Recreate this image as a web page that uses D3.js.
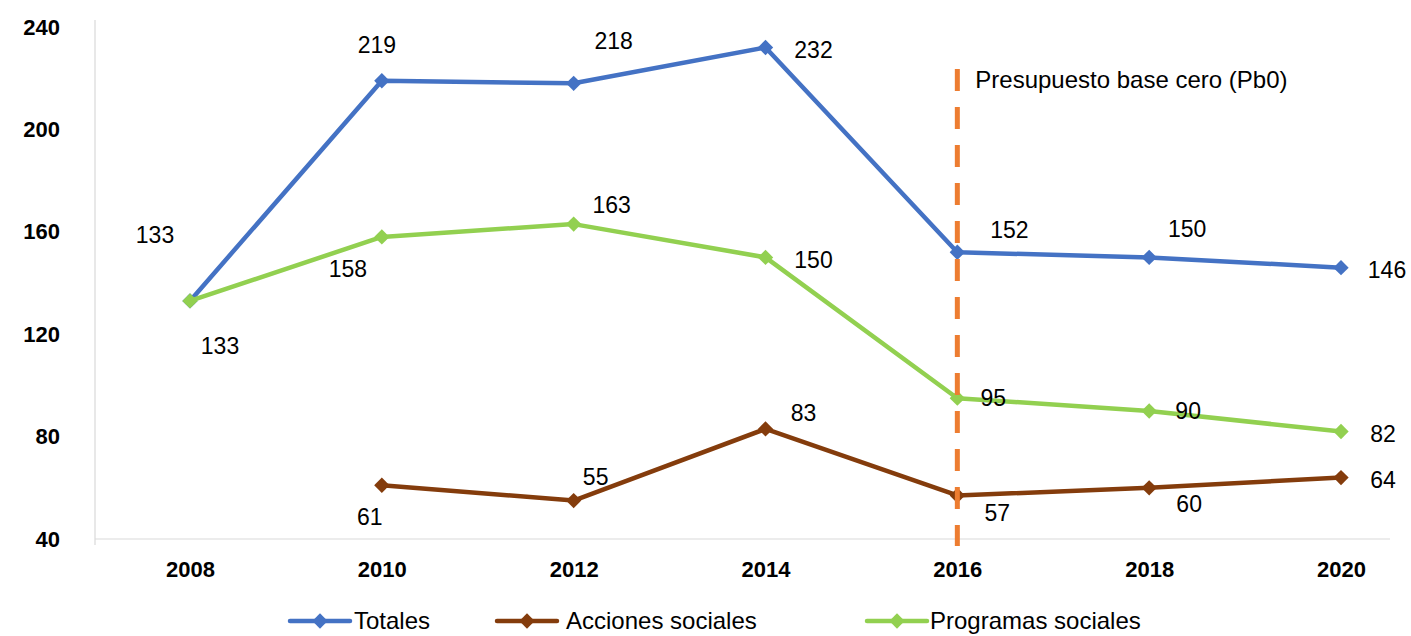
<!DOCTYPE html>
<html>
<head>
<meta charset="utf-8">
<script src="https://cdn.jsdelivr.net/npm/d3@7/dist/d3.min.js"></script>
<style>
  body { margin: 0; background: #fff; }
  text { font-family: "Liberation Sans", Arial, sans-serif; }
</style>
</head>
<body>
<svg id="chart" width="1411" height="636"></svg>
<script>
const years = ["2008", "2010", "2012", "2014", "2016", "2018", "2020"];
const totales = [133, 219, 218, 232, 152, 150, 146];
const acciones = [null, 61, 55, 83, 57, 60, 64];
const programas = [133, 158, 163, 150, 95, 90, 82];
const yTicks = [40, 80, 120, 160, 200, 240];
const markerYear = "2016";
const markerLabel = "Presupuesto base cero (Pb0)";

// label offsets (dx, dy) relative to point, per series
const totalesLabelOff = [[-35, -66], [-5, -36], [40, -42], [48, 2], [52, -22], [38, -28], [46, 2]];
const accionesLabelOff = [null, [-12, 32], [22, -24], [38, -16], [40, 17], [40, 16], [42, 2]];
const programasLabelOff = [[30, 45], [-34, 32], [38, -19], [48, 3], [36, 0], [39, 0], [42, 2]];

const svg = d3.select("#chart");
const plotLeft = 95, plotTop = 27, plotBottom = 539;

const x = d3.scalePoint().domain(years).range([190, 1341]);
const y = d3.scaleLinear().domain([40, 240]).range([plotBottom, plotTop]);

// axes lines
svg.append("line").attr("x1", plotLeft).attr("x2", plotLeft).attr("y1", 20).attr("y2", 545)
  .attr("stroke", "#d9d9d9").attr("stroke-width", 1.2);
svg.append("line").attr("x1", plotLeft).attr("x2", 1390).attr("y1", plotBottom).attr("y2", plotBottom)
  .attr("stroke", "#d9d9d9").attr("stroke-width", 1.2);

// y tick labels
const yAxis = d3.axisLeft(y).tickValues(yTicks).tickSize(0).tickPadding(0);
const gy = svg.append("g").attr("transform", `translate(${60},0)`).call(yAxis);
gy.select(".domain").remove();
gy.selectAll("text").attr("font-size", 22).attr("font-weight", 700).attr("fill", "#000")
  .attr("font-family", "Roboto, Liberation Sans, sans-serif")
  .attr("text-anchor", "end");

// x tick labels
const xAxis = d3.axisBottom(x).tickSize(0).tickPadding(0);
const gx = svg.append("g").attr("transform", `translate(0,${569})`).call(xAxis);
gx.select(".domain").remove();
gx.selectAll("text").attr("font-size", 22).attr("font-weight", 700).attr("fill", "#000")
  .attr("font-family", "Roboto, Liberation Sans, sans-serif")
  .attr("dy", "0.35em");

const series = [
  {name: "Totales", values: totales, color: "#4472C4", off: totalesLabelOff},
  {name: "Acciones sociales", values: acciones, color: "#843C0C", off: accionesLabelOff},
  {name: "Programas sociales", values: programas, color: "#92D050", off: programasLabelOff}
];

const line = d3.line()
  .defined(d => d.v !== null)
  .x(d => x(d.year)).y(d => y(d.v));

const diamond = d3.symbol().type(d3.symbolDiamond2).size(150);

series.forEach(s => {
  const pts = years.map((yr, i) => ({year: yr, v: s.values[i], i}));
  svg.append("path").datum(pts).attr("d", line)
    .attr("fill", "none").attr("stroke", s.color).attr("stroke-width", 4.5)
    .attr("stroke-linejoin", "round");
  svg.append("g").selectAll("path").data(pts.filter(d => d.v !== null)).join("path")
    .attr("d", diamond)
    .attr("transform", d => `translate(${x(d.year)},${y(d.v)})`)
    .attr("fill", s.color);
});

// data labels
series.forEach(s => {
  const pts = years.map((yr, i) => ({year: yr, v: s.values[i], i})).filter(d => d.v !== null);
  svg.append("g").selectAll("text").data(pts).join("text")
    .attr("x", d => x(d.year) + s.off[d.i][0])
    .attr("y", d => y(d.v) + s.off[d.i][1])
    .attr("dy", "0.35em")
    .attr("text-anchor", "middle")
    .attr("font-size", 23).attr("fill", "#000")
    .text(d => d.v);
});

// vertical dashed line
svg.append("line")
  .attr("x1", x(markerYear)).attr("x2", x(markerYear))
  .attr("y1", 69).attr("y2", 546)
  .attr("stroke", "#ED7D31").attr("stroke-width", 5)
  .attr("stroke-dasharray", "22,16");
svg.append("text").attr("x", x(markerYear) + 18).attr("y", 80).attr("dy", "0.35em")
  .attr("font-size", 24).attr("fill", "#000").text(markerLabel);

// legend
const legendItems = [
  {s: series[0], x0: 290, tx: 354},
  {s: series[1], x0: 497, tx: 566},
  {s: series[2], x0: 867, tx: 930}
];
const ly = 621;
legendItems.forEach(it => {
  svg.append("line").attr("x1", it.x0).attr("x2", it.x0 + 60).attr("y1", ly).attr("y2", ly)
    .attr("stroke", it.s.color).attr("stroke-width", 4.5).attr("stroke-linecap", "round");
  svg.append("path").attr("d", diamond).attr("transform", `translate(${it.x0 + 30},${ly})`)
    .attr("fill", it.s.color);
  svg.append("text").attr("x", it.tx).attr("y", ly).attr("dy", "0.35em")
    .attr("font-size", 24).attr("fill", "#000").text(it.s.name);
});
</script>
</body>
</html>
